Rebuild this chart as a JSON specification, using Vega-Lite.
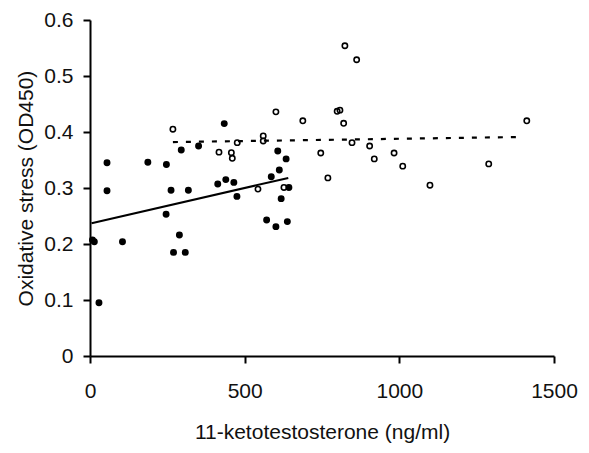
{
  "$schema": "https://vega.github.io/schema/vega-lite/v6.json",
  "width": 464,
  "height": 336,
  "autosize": {"type": "none"},
  "padding": {"left": 90, "top": 20, "right": 35, "bottom": 97},
  "config": {"view": {"stroke": null}, "font": "Liberation Sans"},
  "datasets": {
    "points": [
      {"group": "filled", "kt": 8, "os": 0.207},
      {"group": "filled", "kt": 14, "os": 0.204},
      {"group": "filled", "kt": 29, "os": 0.095},
      {"group": "filled", "kt": 55, "os": 0.345},
      {"group": "filled", "kt": 55, "os": 0.295},
      {"group": "filled", "kt": 105, "os": 0.204},
      {"group": "filled", "kt": 187, "os": 0.346},
      {"group": "filled", "kt": 247, "os": 0.342},
      {"group": "filled", "kt": 246, "os": 0.253},
      {"group": "filled", "kt": 262, "os": 0.296},
      {"group": "filled", "kt": 289, "os": 0.216},
      {"group": "filled", "kt": 270, "os": 0.185},
      {"group": "filled", "kt": 308, "os": 0.185},
      {"group": "filled", "kt": 295, "os": 0.368},
      {"group": "filled", "kt": 318, "os": 0.296},
      {"group": "filled", "kt": 351, "os": 0.375},
      {"group": "filled", "kt": 413, "os": 0.307},
      {"group": "filled", "kt": 434, "os": 0.415},
      {"group": "filled", "kt": 439, "os": 0.315},
      {"group": "filled", "kt": 465, "os": 0.31},
      {"group": "filled", "kt": 475, "os": 0.285},
      {"group": "filled", "kt": 586, "os": 0.32},
      {"group": "filled", "kt": 607, "os": 0.366},
      {"group": "filled", "kt": 612, "os": 0.332},
      {"group": "filled", "kt": 634, "os": 0.352},
      {"group": "filled", "kt": 643, "os": 0.301},
      {"group": "filled", "kt": 618, "os": 0.281},
      {"group": "filled", "kt": 571, "os": 0.243},
      {"group": "filled", "kt": 601, "os": 0.231},
      {"group": "filled", "kt": 638, "os": 0.24},
      {"group": "open", "kt": 268, "os": 0.405},
      {"group": "open", "kt": 417, "os": 0.364},
      {"group": "open", "kt": 457, "os": 0.363},
      {"group": "open", "kt": 460, "os": 0.353},
      {"group": "open", "kt": 476, "os": 0.381},
      {"group": "open", "kt": 543, "os": 0.298},
      {"group": "open", "kt": 560, "os": 0.393},
      {"group": "open", "kt": 560, "os": 0.384},
      {"group": "open", "kt": 601, "os": 0.436},
      {"group": "open", "kt": 627, "os": 0.301},
      {"group": "open", "kt": 688, "os": 0.42},
      {"group": "open", "kt": 746, "os": 0.3625},
      {"group": "open", "kt": 769, "os": 0.318},
      {"group": "open", "kt": 799, "os": 0.437},
      {"group": "open", "kt": 808, "os": 0.439},
      {"group": "open", "kt": 820, "os": 0.4155},
      {"group": "open", "kt": 824, "os": 0.554},
      {"group": "open", "kt": 847, "os": 0.381},
      {"group": "open", "kt": 862, "os": 0.529},
      {"group": "open", "kt": 904, "os": 0.375},
      {"group": "open", "kt": 919, "os": 0.352},
      {"group": "open", "kt": 983, "os": 0.3625},
      {"group": "open", "kt": 1011, "os": 0.339},
      {"group": "open", "kt": 1099, "os": 0.305},
      {"group": "open", "kt": 1289, "os": 0.343},
      {"group": "open", "kt": 1412, "os": 0.42}
    ],
    "lines": [
      {"group": "filled", "kt": 5, "os": 0.237},
      {"group": "filled", "kt": 641, "os": 0.318},
      {"group": "open", "kt": 268, "os": 0.382},
      {"group": "open", "kt": 1382, "os": 0.391}
    ]
  },
  "layer": [
    {
      "data": {"name": "points"},
      "transform": [{"filter": "datum.group == 'filled'"}],
      "mark": {"type": "point", "shape": "circle", "filled": true, "color": "#000", "size": 48, "opacity": 1},
      "encoding": {
        "x": {
          "field": "kt", "type": "quantitative",
          "scale": {"domain": [0, 1500], "nice": false, "zero": false},
          "axis": {
            "values": [0, 500, 1000, 1500], "grid": false, "format": "d",
            "domainWidth": 2, "domainColor": "#000",
            "tickSize": 7, "tickWidth": 2, "tickColor": "#000",
            "labelFontSize": 21, "labelPadding": 17, "labelColor": "#111", "labelFlush": false,
            "title": "11-ketotestosterone (ng/ml)", "titleFontSize": 21, "titleFontWeight": "normal",
            "titleColor": "#111", "titleY": 82, "titleBaseline": "alphabetic"
          }
        },
        "y": {
          "field": "os", "type": "quantitative",
          "scale": {"domain": [0, 0.6], "nice": false},
          "axis": {
            "values": [0, 0.1, 0.2, 0.3, 0.4, 0.5, 0.6], "grid": false,
            "labelExpr": "datum.value == 0 ? '0' : format(datum.value, '.1f')",
            "domainWidth": 2, "domainColor": "#000",
            "tickSize": 7, "tickWidth": 2, "tickColor": "#000",
            "labelFontSize": 21, "labelPadding": 10, "labelColor": "#111",
            "title": "Oxidative stress (OD450)", "titleFontSize": 21, "titleFontWeight": "normal",
            "titleColor": "#111", "titleX": -58, "titleBaseline": "alphabetic"
          }
        }
      }
    },
    {
      "data": {"name": "points"},
      "transform": [{"filter": "datum.group == 'open'"}],
      "mark": {"type": "point", "shape": "circle", "filled": false, "color": "#000", "size": 28, "strokeWidth": 1.6, "opacity": 1},
      "encoding": {
        "x": {"field": "kt", "type": "quantitative"},
        "y": {"field": "os", "type": "quantitative"}
      }
    },
    {
      "data": {"name": "lines"},
      "transform": [{"filter": "datum.group == 'filled'"}],
      "mark": {"type": "line", "color": "#000", "strokeWidth": 2},
      "encoding": {
        "x": {"field": "kt", "type": "quantitative"},
        "y": {"field": "os", "type": "quantitative"}
      }
    },
    {
      "data": {"name": "lines"},
      "transform": [{"filter": "datum.group == 'open'"}],
      "mark": {"type": "line", "color": "#000", "strokeWidth": 2.2, "strokeDash": [5, 8]},
      "encoding": {
        "x": {"field": "kt", "type": "quantitative"},
        "y": {"field": "os", "type": "quantitative"}
      }
    }
  ]
}
